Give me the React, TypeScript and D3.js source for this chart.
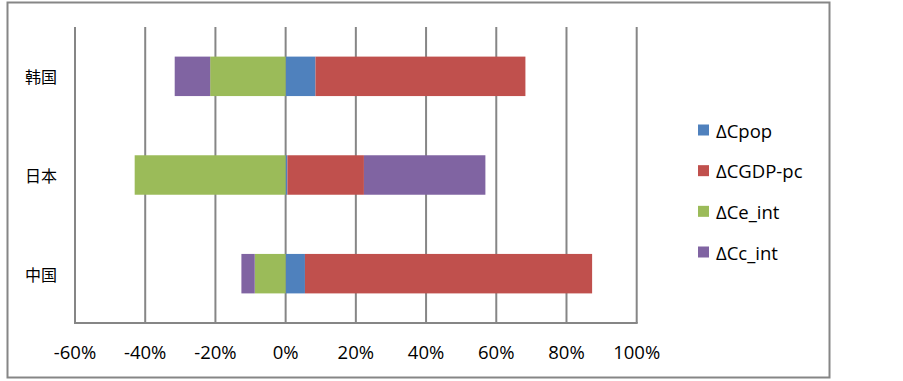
import React from "react";
import * as d3 from "d3";

// data (fractions)
const countries = ["韩国", "日本", "中国"];
const seriesNames = ["ΔCpop", "ΔCGDP-pc", "ΔCe_int", "ΔCc_int"];
const dCpop = [0.085, 0.005, 0.055];
const dCgdp = [0.598, 0.218, 0.818];
const dCeInt = [-0.215, -0.43, -0.088];
const dCcInt = [-0.101, 0.346, -0.038];
const tickValues = [-0.6, -0.4, -0.2, 0, 0.2, 0.4, 0.6, 0.8, 1.0];
const colors = ["#4F81BD", "#C0504D", "#9BBB59", "#8064A2"];

const font = "'Open Sans', 'Liberation Sans', sans-serif";
const pct = d3.formatLocale({
  decimal: ".",
  thousands: ",",
  grouping: [3],
  currency: ["", ""],
  minus: "-",
}).format(".0%");

const App = () => {
  const rows = countries.map((c, i) => ({
    country: c,
    [seriesNames[0]]: dCpop[i],
    [seriesNames[1]]: dCgdp[i],
    [seriesNames[2]]: dCeInt[i],
    [seriesNames[3]]: dCcInt[i],
  }));

  const stacked = d3
    .stack()
    .keys(seriesNames)
    .offset(d3.stackOffsetDiverging)(rows as any);

  const x = d3.scaleLinear().domain([-0.6, 1.0]).range([75, 636.7]);
  const y = d3
    .scaleBand()
    .domain(countries)
    .range([27, 323])
    .paddingInner(0.6)
    .paddingOuter(0.3);

  const legendY = d3
    .scalePoint()
    .domain(seriesNames)
    .range([130, 252]);

  return (
    <svg
      width={903}
      height={381}
      style={{ position: "absolute", left: 0, top: 0, background: "#fff" }}
    >
      <rect x={7.5} y={2.5} width={822} height={375} fill="#fff" stroke="#868686" strokeWidth={2} />

      {/* gridlines */}
      {tickValues.map(t => (
        <line
          key={t}
          x1={x(t)}
          x2={x(t)}
          y1={27}
          y2={323}
          stroke="#868686"
          strokeWidth={2}
        />
      ))}
      <line x1={x(-0.6) - 1} x2={x(1.0) + 1} y1={323} y2={323} stroke="#868686" strokeWidth={2} />

      {/* bars */}
      {stacked.map((s, si) => (
        <g key={s.key} fill={colors[si]}>
          {s.map((d, i) => {
            const x0 = x(Math.min(d[0], d[1]));
            const x1 = x(Math.max(d[0], d[1]));
            return (
              <rect
                key={i}
                x={x0}
                y={y(countries[i])}
                width={Math.max(0, x1 - x0)}
                height={y.bandwidth()}
              />
            );
          })}
        </g>
      ))}

      {/* category labels */}
      {countries.map(c => (
        <text
          key={c}
          x={57}
          y={(y(c) || 0) + y.bandwidth() / 2}
          textAnchor="end"
          dominantBaseline="central"
          fontFamily="'Noto Sans CJK SC', sans-serif"
          fontSize={16}
          fill="#000"
        >
          {c}
        </text>
      ))}

      {/* x tick labels */}
      {tickValues.map(t => (
        <text
          key={t}
          x={x(t)}
          y={359}
          textAnchor="middle"
          fontFamily={font}
          fontSize={18.5}
          fill="#000"
        >
          {pct(t)}
        </text>
      ))}

      {/* legend */}
      {seriesNames.map((n, i) => (
        <g key={n} transform={`translate(698,${legendY(n)})`}>
          <rect x={0} y={-5.5} width={11} height={11} fill={colors[i]} />
          <text
            x={18}
            y={0}
            dominantBaseline="central"
            fontFamily={font}
            fontSize={18.5}
            fill="#000"
          >
            {n}
          </text>
        </g>
      ))}
    </svg>
  );
};

export default App;
